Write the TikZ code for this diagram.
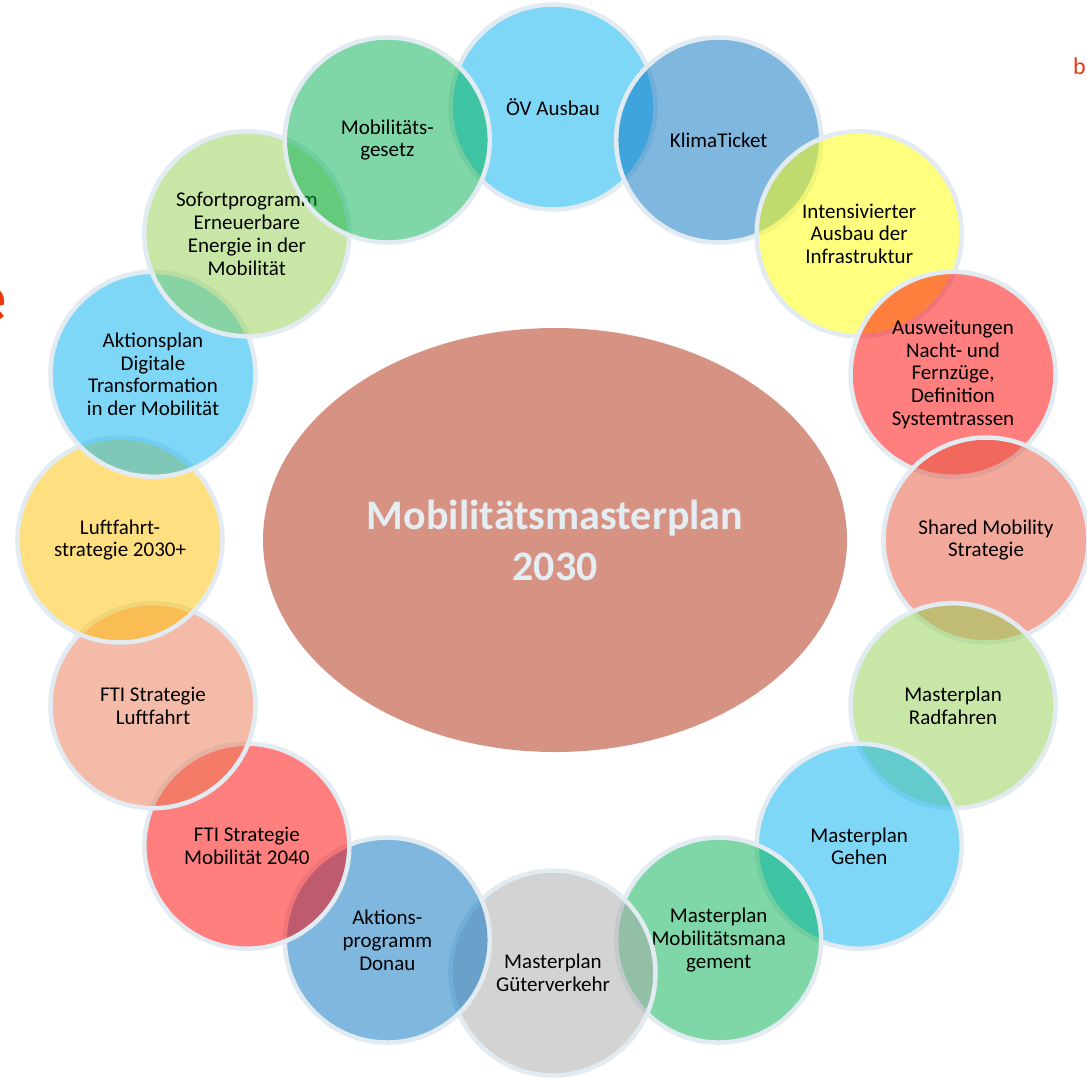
\documentclass[tikz,border=0pt]{standalone}
\usepackage{fontspec}
\setmainfont{Carlito}
\usetikzlibrary{shapes.geometric}
\definecolor{ring}{HTML}{E1EBF1}
\definecolor{cLBlue}{HTML}{00B0F0}
\definecolor{cBlue}{HTML}{0070C0}
\definecolor{cYellow}{HTML}{FFFF00}
\definecolor{cRed}{HTML}{FF0000}
\definecolor{cSalmon}{HTML}{E5533A}
\definecolor{cLGreen}{HTML}{92D050}
\definecolor{cGreen}{HTML}{00B050}
\definecolor{cGray}{HTML}{A8A8A8}
\definecolor{cPeach}{HTML}{EA7852}
\definecolor{cGold}{HTML}{FFC000}
\definecolor{hub}{HTML}{D69383}
\definecolor{hubtext}{HTML}{E4EDF2}
\definecolor{slidered}{HTML}{E8380D}
\tikzset{
  bubble/.style={circle, draw=ring, line width=4.5pt, minimum size=205pt, inner sep=0pt,
    fill opacity=0.5, draw opacity=1, text opacity=1, align=center, text=black,
    font=\fontsize{21}{22.8}\selectfont},
  hubnode/.style={ellipse, fill=hub, minimum width=584pt, minimum height=424pt, inner sep=0pt,
    align=center, text=hubtext, font=\bfseries\fontsize{42}{51}\selectfont},
  scrap/.style={text=slidered, inner sep=0pt}
}
\begin{document}
\begin{tikzpicture}[x=1pt,y=-1pt]
\useasboundingbox (0,0) rectangle (1087,1080);
\clip (0,0) rectangle (1087,1080);
\node[hubnode] (hub) at (555,540) {Mobilitätsmasterplan\\2030};
\foreach \k/\col/\txt in {
  0/cLBlue/{ÖV Ausbau},
  1/cBlue/{KlimaTicket},
  2/cYellow/{Intensivierter\\Ausbau der\\Infrastruktur},
  3/cRed/{Ausweitungen\\Nacht- und\\Fernzüge,\\Definition\\Systemtrassen},
  4/cSalmon/{Shared Mobility\\Strategie},
  5/cLGreen/{Masterplan\\Radfahren},
  6/cLBlue/{Masterplan\\Gehen},
  7/cGreen/{Masterplan\\Mobilitätsmana\\gement},
  8/cGray/{Masterplan\\Güterverkehr},
  9/cBlue/{Aktions-\\programm\\Donau},
  10/cRed/{FTI Strategie\\Mobilität 2040},
  11/cPeach/{FTI Strategie\\Luftfahrt},
  12/cGold/{Luftfahrt-\\strategie 2030+},
  13/cLBlue/{Aktionsplan\\Digitale\\Transformation\\in der Mobilität},
  14/cLGreen/{Sofortprogramm\\Erneuerbare\\Energie in der\\Mobilität},
  15/cGreen/{Mobilitäts-\\gesetz}} {
  \pgfmathsetmacro{\ang}{90-22.5*\k}
  \node[bubble, fill=\col] (b\k) at ({553+433*cos(\ang)},{540-433*sin(\ang)}) {\txt};
}
\node[scrap, anchor=base east, font=\bfseries\fontsize{70}{70}\selectfont] (scrapE) at (7,321) {e};
\node[scrap, anchor=base west, font=\fontsize{24}{24}\selectfont] (scrapB) at (1073,74) {b};
\end{tikzpicture}
\end{document}
